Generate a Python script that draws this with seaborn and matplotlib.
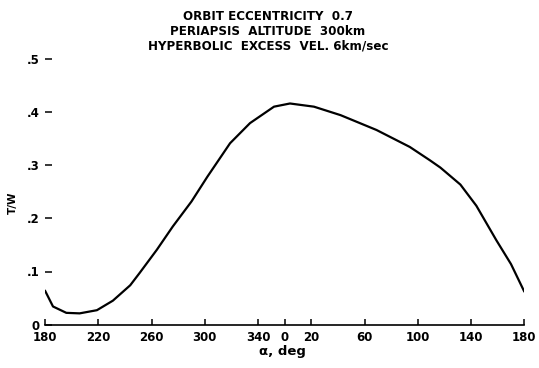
import matplotlib
matplotlib.use("Agg")
import matplotlib.pyplot as plt
import seaborn as sns
import pandas as pd

# ---- data ----
# angle is unwrapped: 180..540 deg, labelled modulo 360 on the axis
angle_deg = [180, 186, 196, 206, 219, 231, 244, 251, 264, 276, 290, 302,
             319, 334, 352, 364, 382, 402, 429, 454, 469, 477, 492, 504,
             519, 530, 540]
thrust_weight = [0.064, 0.034, 0.022, 0.021, 0.027, 0.045, 0.074, 0.097,
                 0.141, 0.185, 0.232, 0.279, 0.342, 0.380, 0.411, 0.417,
                 0.411, 0.395, 0.367, 0.335, 0.310, 0.296, 0.264, 0.224,
                 0.159, 0.114, 0.062]

xtick_pos = [180, 220, 260, 300, 340, 360, 380, 420, 460, 500, 540]
xtick_labels = ["180", "220", "260", "300", "340", "0", "20", "60", "100", "140", "180"]
ytick_pos = [0, 0.1, 0.2, 0.3, 0.4, 0.5]
ytick_labels = ["0", ".1", ".2", ".3", ".4", ".5"]

title_lines = ["ORBIT ECCENTRICITY  0.7",
               "PERIAPSIS  ALTITUDE  300km",
               "HYPERBOLIC  EXCESS  VEL. 6km/sec"]

df = pd.DataFrame({"angle": angle_deg, "tw": thrust_weight})

sns.set_style("white")
plt.rcParams["font.family"] = ["DejaVu Sans"]
plt.rcParams["text.color"] = "black"

W, H = 539, 368
fig = plt.figure(figsize=(W / 100, H / 100), dpi=100)
ax_left, ax_right = 45, 524.3
ax_top, ax_bottom = 59.5, 324.5
ax = fig.add_axes([ax_left / W, 1 - ax_bottom / H,
                   (ax_right - ax_left) / W, (ax_bottom - ax_top) / H])

sns.lineplot(data=df, x="angle", y="tw", ax=ax, color="black",
             linewidth=1.6, sort=False, estimator=None)

ax.set_xlim(180, 540)
ax.set_ylim(0, 0.5)
ax.set_xticks(xtick_pos)
ax.set_xticklabels(xtick_labels)
ax.set_yticks(ytick_pos)
ax.set_yticklabels(ytick_labels)

for s in ["top", "right", "left"]:
    ax.spines[s].set_visible(False)
ax.spines["bottom"].set_linewidth(1.2)
ax.spines["bottom"].set_color("black")

ax.tick_params(axis="x", bottom=True, direction="in", length=4, width=1.1,
               pad=5, labelsize=8.5, colors="black")
ax.tick_params(axis="y", left=True, direction="in", length=5, width=1.1,
               pad=4, labelsize=8.5, colors="black")
for lab in ax.get_xticklabels() + ax.get_yticklabels():
    lab.set_fontweight("bold")

ax.set_xlabel("")
ax.set_ylabel("")
fig.text(282 / W, 1 - 351 / H, "α, deg", ha="center", va="center",
         fontsize=9.5, fontweight="bold", color="black")
fig.text(13 / W, 1 - 203 / H, "T/W", ha="center", va="center",
         rotation=90, fontsize=7.5, fontweight="bold", color="black")

title_x = [268, 268, 268]
title_y = [16, 31.5, 46]
for t, tx, ty in zip(title_lines, title_x, title_y):
    fig.text(tx / W, 1 - ty / H, t, ha="center", va="center",
             fontsize=8.6, fontweight="bold", color="black")

ax.grid(False)
fig.savefig("out.png", dpi=100)
